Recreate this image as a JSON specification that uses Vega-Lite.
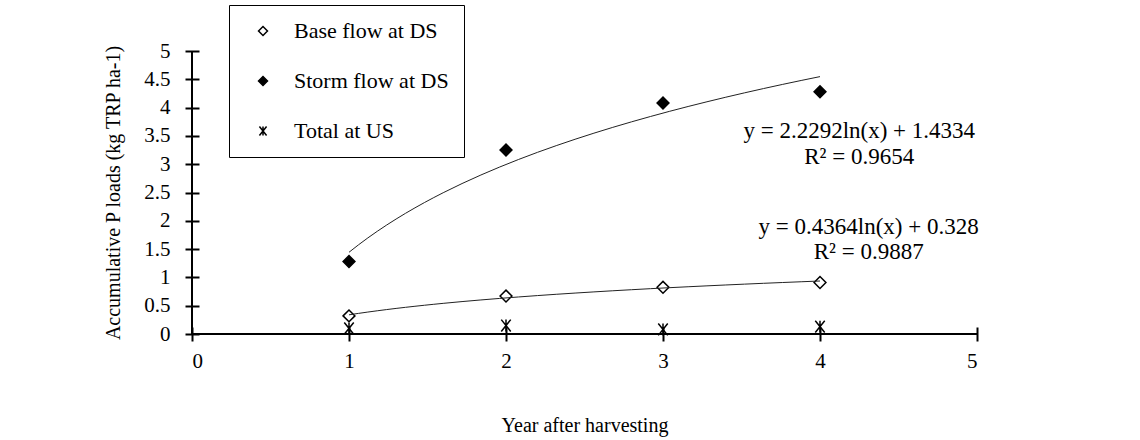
{
  "$schema": "https://vega.github.io/schema/vega-lite/v6.json",
  "width": 785,
  "height": 283,
  "autosize": "none",
  "padding": {"left": 192, "top": 51, "right": 163, "bottom": 106},
  "background": "white",
  "config": {
    "view": {"stroke": null},
    "font": "Liberation Serif",
    "axis": {
      "domain": false,
      "grid": false,
      "tickColor": "black",
      "tickWidth": 2,
      "tickSize": 14,
      "labelFont": "Liberation Serif",
      "labelFontSize": 21,
      "labelColor": "black",
      "titleFont": "Liberation Serif",
      "titleFontSize": 20,
      "titleFontWeight": "normal",
      "titleColor": "black"
    },
    "legend": {
      "labelFont": "Liberation Serif",
      "labelFontSize": 22,
      "labelColor": "black"
    }
  },
  "data": {
    "values": [
      {"series": "Base flow at DS", "x": 1, "y": 0.32},
      {"series": "Base flow at DS", "x": 2, "y": 0.67},
      {"series": "Base flow at DS", "x": 3, "y": 0.825},
      {"series": "Base flow at DS", "x": 4, "y": 0.91},
      {"series": "Storm flow at DS", "x": 1, "y": 1.28},
      {"series": "Storm flow at DS", "x": 2, "y": 3.25},
      {"series": "Storm flow at DS", "x": 3, "y": 4.08},
      {"series": "Storm flow at DS", "x": 4, "y": 4.28},
      {"series": "Total at US", "x": 1, "y": 0.1},
      {"series": "Total at US", "x": 2, "y": 0.15},
      {"series": "Total at US", "x": 3, "y": 0.08},
      {"series": "Total at US", "x": 4, "y": 0.13}
    ]
  },
  "layer": [
    {
      "mark": {"type": "point", "strokeWidth": 1.5, "size": 140, "opacity": 1},
      "encoding": {
        "x": {
          "field": "x", "type": "quantitative",
          "scale": {"domain": [0, 5], "nice": false, "zero": false},
          "axis": {"values": [0, 1, 2, 3, 4, 5], "format": "d", "offset": -7, "labelPadding": 9, "title": "Year after harvesting", "titlePadding": 44}
        },
        "y": {
          "field": "y", "type": "quantitative",
          "scale": {"domain": [0, 5], "nice": false},
          "axis": {"values": [0, 0.5, 1, 1.5, 2, 2.5, 3, 3.5, 4, 4.5, 5], "offset": -7, "format": "~g", "labelPadding": 15, "title": "Accumulative P loads (kg TRP ha-1)", "titlePadding": 20}
        },
        "shape": {
          "field": "series", "type": "nominal",
          "scale": {"domain": ["Base flow at DS", "Storm flow at DS", "Total at US"], "range": ["diamond", "diamond", "M-0.8,-1L0.8,1M0.8,-1L-0.8,1M0,-1L0,1"]},
          "legend": {"title": null, "orient": "none", "legendX": 37, "legendY": -46, "strokeColor": "black", "padding": 15, "symbolOffset": 8, "labelOffset": 20, "rowPadding": 28, "symbolSize": 80, "symbolStrokeWidth": 1.5}
        },
        "fill": {
          "field": "series", "type": "nominal",
          "scale": {"domain": ["Base flow at DS", "Storm flow at DS", "Total at US"], "range": ["white", "black", "transparent"]},
          "legend": {"title": null, "orient": "none", "legendX": 37, "legendY": -46, "strokeColor": "black", "padding": 15, "symbolOffset": 8, "labelOffset": 20, "rowPadding": 28, "symbolSize": 80, "symbolStrokeWidth": 1.5}
        },
        "stroke": {
          "field": "series", "type": "nominal",
          "scale": {"domain": ["Base flow at DS", "Storm flow at DS", "Total at US"], "range": ["black", "black", "black"]},
          "legend": {"title": null, "orient": "none", "legendX": 37, "legendY": -46, "strokeColor": "black", "padding": 15, "symbolOffset": 8, "labelOffset": 20, "rowPadding": 28, "symbolSize": 80, "symbolStrokeWidth": 1.5}
        }
      }
    },
    {
      "transform": [
        {"filter": "datum.series !== 'Total at US'"},
        {"regression": "y", "on": "x", "groupby": ["series"], "method": "log", "extent": [1, 4]}
      ],
      "mark": {"type": "line", "color": "#222222", "strokeWidth": 1},
      "encoding": {
        "x": {"field": "x", "type": "quantitative", "axis": {"values": [0, 1, 2, 3, 4, 5], "format": "d", "offset": -7, "labelPadding": 9, "title": "Year after harvesting", "titlePadding": 44}},
        "y": {"field": "y", "type": "quantitative", "axis": {"values": [0, 0.5, 1, 1.5, 2, 2.5, 3, 3.5, 4, 4.5, 5], "offset": -7, "format": "~g", "labelPadding": 15, "title": "Accumulative P loads (kg TRP ha-1)", "titlePadding": 20}},
        "detail": {"field": "series"}
      }
    },
    {
      "data": {"values": [{}]},
      "mark": {"type": "rule", "color": "black", "strokeWidth": 2},
      "encoding": {
        "x": {"datum": 0, "type": "quantitative", "axis": {"values": [0, 1, 2, 3, 4, 5], "format": "d", "offset": -7, "labelPadding": 9, "title": "Year after harvesting", "titlePadding": 44}},
        "y": {"datum": 0, "type": "quantitative", "axis": {"values": [0, 0.5, 1, 1.5, 2, 2.5, 3, 3.5, 4, 4.5, 5], "offset": -7, "format": "~g", "labelPadding": 15, "title": "Accumulative P loads (kg TRP ha-1)", "titlePadding": 20}},
        "y2": {"datum": 5}
      }
    },
    {
      "data": {"values": [{}]},
      "mark": {"type": "rule", "color": "black", "strokeWidth": 2},
      "encoding": {
        "x": {"datum": 0, "type": "quantitative", "axis": {"values": [0, 1, 2, 3, 4, 5], "format": "d", "offset": -7, "labelPadding": 9, "title": "Year after harvesting", "titlePadding": 44}},
        "x2": {"datum": 5},
        "y": {"datum": 0, "type": "quantitative", "axis": {"values": [0, 0.5, 1, 1.5, 2, 2.5, 3, 3.5, 4, 4.5, 5], "offset": -7, "format": "~g", "labelPadding": 15, "title": "Accumulative P loads (kg TRP ha-1)", "titlePadding": 20}}
      }
    },
    {
      "data": {"values": [{}]},
      "mark": {"type": "text", "fontSize": 23, "font": "Liberation Serif", "color": "black", "align": "center", "baseline": "middle"},
      "encoding": {
        "x": {"datum": 4.25, "type": "quantitative", "axis": {"values": [0, 1, 2, 3, 4, 5], "format": "d", "offset": -7, "labelPadding": 9, "title": "Year after harvesting", "titlePadding": 44}},
        "y": {"datum": 3.59, "type": "quantitative", "axis": {"values": [0, 0.5, 1, 1.5, 2, 2.5, 3, 3.5, 4, 4.5, 5], "offset": -7, "format": "~g", "labelPadding": 15, "title": "Accumulative P loads (kg TRP ha-1)", "titlePadding": 20}},
        "text": {"value": "y = 2.2292ln(x) + 1.4334"}
      }
    },
    {
      "data": {"values": [{}]},
      "mark": {"type": "text", "fontSize": 23, "font": "Liberation Serif", "color": "black", "align": "center", "baseline": "middle"},
      "encoding": {
        "x": {"datum": 4.25, "type": "quantitative", "axis": {"values": [0, 1, 2, 3, 4, 5], "format": "d", "offset": -7, "labelPadding": 9, "title": "Year after harvesting", "titlePadding": 44}},
        "y": {"datum": 3.13, "type": "quantitative", "axis": {"values": [0, 0.5, 1, 1.5, 2, 2.5, 3, 3.5, 4, 4.5, 5], "offset": -7, "format": "~g", "labelPadding": 15, "title": "Accumulative P loads (kg TRP ha-1)", "titlePadding": 20}},
        "text": {"value": "R² = 0.9654"}
      }
    },
    {
      "data": {"values": [{}]},
      "mark": {"type": "text", "fontSize": 23, "font": "Liberation Serif", "color": "black", "align": "center", "baseline": "middle"},
      "encoding": {
        "x": {"datum": 4.31, "type": "quantitative", "axis": {"values": [0, 1, 2, 3, 4, 5], "format": "d", "offset": -7, "labelPadding": 9, "title": "Year after harvesting", "titlePadding": 44}},
        "y": {"datum": 1.89, "type": "quantitative", "axis": {"values": [0, 0.5, 1, 1.5, 2, 2.5, 3, 3.5, 4, 4.5, 5], "offset": -7, "format": "~g", "labelPadding": 15, "title": "Accumulative P loads (kg TRP ha-1)", "titlePadding": 20}},
        "text": {"value": "y = 0.4364ln(x) + 0.328"}
      }
    },
    {
      "data": {"values": [{}]},
      "mark": {"type": "text", "fontSize": 23, "font": "Liberation Serif", "color": "black", "align": "center", "baseline": "middle"},
      "encoding": {
        "x": {"datum": 4.31, "type": "quantitative", "axis": {"values": [0, 1, 2, 3, 4, 5], "format": "d", "offset": -7, "labelPadding": 9, "title": "Year after harvesting", "titlePadding": 44}},
        "y": {"datum": 1.45, "type": "quantitative", "axis": {"values": [0, 0.5, 1, 1.5, 2, 2.5, 3, 3.5, 4, 4.5, 5], "offset": -7, "format": "~g", "labelPadding": 15, "title": "Accumulative P loads (kg TRP ha-1)", "titlePadding": 20}},
        "text": {"value": "R² = 0.9887"}
      }
    }
  ]
}
